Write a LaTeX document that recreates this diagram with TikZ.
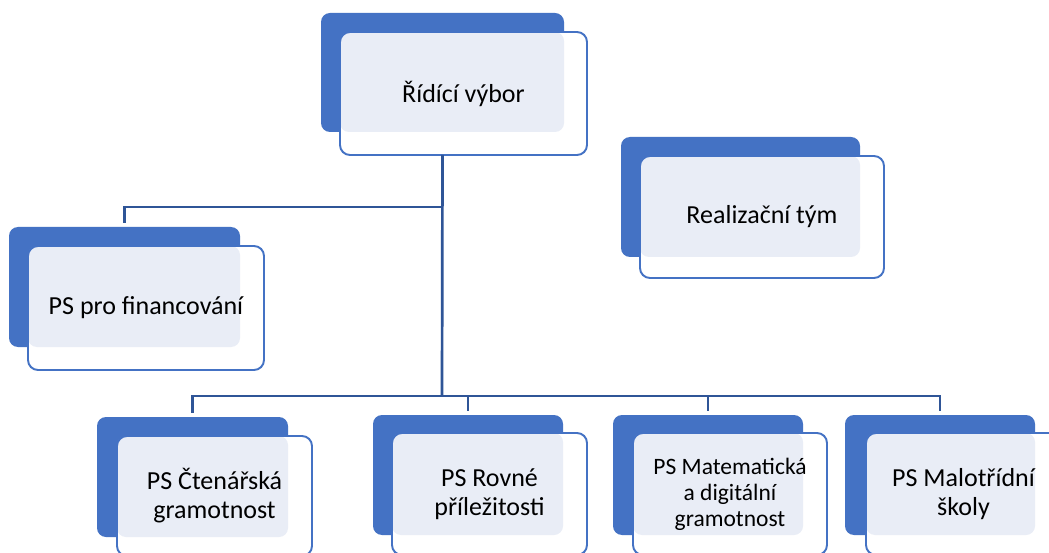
\documentclass[tikz,border=0pt]{standalone}
\usepackage{fontspec}
\setmainfont{Carlito}
\usetikzlibrary{fit}
\definecolor{boxblue}{HTML}{4472C4}
\definecolor{lightfill}{HTML}{E9EDF6}
\definecolor{linkblue}{HTML}{2F5597}
\tikzset{
 backbox/.style={fill=boxblue, draw=none, rounded corners=9pt, inner sep=0pt, outer sep=0pt},
 lightbox/.style={fill=lightfill, draw=none, rounded corners=9pt, inner sep=0pt, outer sep=0pt},
 outlfill/.style={fill=white, draw=none, rounded corners=10pt, inner sep=0pt, outer sep=0pt},
 outlline/.style={draw=boxblue, line width=1.9pt, rounded corners=10pt, inner sep=0pt, outer sep=0pt},
 txt/.style={font=\fontsize{26}{29}\selectfont, align=center, text=black, inner sep=0pt},
 link/.style={draw=linkblue, line width=2.7pt},
}
\newcommand\orgbox[9]{%
 \node[backbox, fit={(#2,#3) (#4,#5)}] (#1b) {};
 \node[outlfill, fit={(#6,#7) (#8,#9)}] (#1w) {};
 \node[lightbox, fit={(#6,#7) (#4,#5)}] (#1l) {};
 \node[outlline, fit={(#6,#7) (#8,#9)}] (#1o) {};
}
\begin{document}
\begin{tikzpicture}[x=1pt,y=-1pt]
\useasboundingbox (0,0) rectangle (1049,553);
\clip (0,0) rectangle (1049,553);
\fill[white] (0,0) rectangle (1049,553);

\orgbox{rid}{321}{13}{564}{132}{340}{32}{587}{155}
\orgbox{real}{621}{137}{860}{257}{640}{156}{884}{278}
\orgbox{fin}{9}{227}{240}{347}{28}{246}{264}{370}
\orgbox{cte}{97}{417}{288}{537}{117}{436}{312}{556}
\orgbox{rov}{373}{415}{563}{535}{392}{433}{587}{555}
\orgbox{mat}{613}{415}{803}{535}{633}{433}{827}{555}
\orgbox{mal}{845}{415}{1035}{535}{866}{433}{1061}{555}

\coordinate (j1) at (442,207);
\coordinate (j2) at (442,396);
\draw[link] (ridb.south |- ridw.south) -- (j2);
\draw[link, shorten >=4pt] (j1) -| (finb.north);
\draw[link, shorten >=4pt] (j2) -| (cteb.north);
\draw[link, shorten >=4pt] (j2) -| (rovb.north);
\draw[link, shorten >=4pt] (j2) -| (matb.north);
\draw[link, shorten >=4pt] (j2) -| (malb.north);

\node[txt] (ridt) at (rido.center) {Řídící výbor};
\node[txt] (realt) at (realo.center) {Realizační tým};
\node[txt] (fint) at (fino.center) {PS pro financování};
\node[txt] (ctet) at (cteo.center) {PS Čtenářská\\gramotnost};
\node[txt] (rovt) at (rovo.center) {PS Rovné\\příležitosti};
\node[txt, font=\fontsize{23.5}{26}\selectfont] (matt) at (mato.center) {PS Matematická\\a digitální\\gramotnost};
\node[txt] (malt) at (malo.center) {PS Malotřídní\\školy};
\end{tikzpicture}
\end{document}
